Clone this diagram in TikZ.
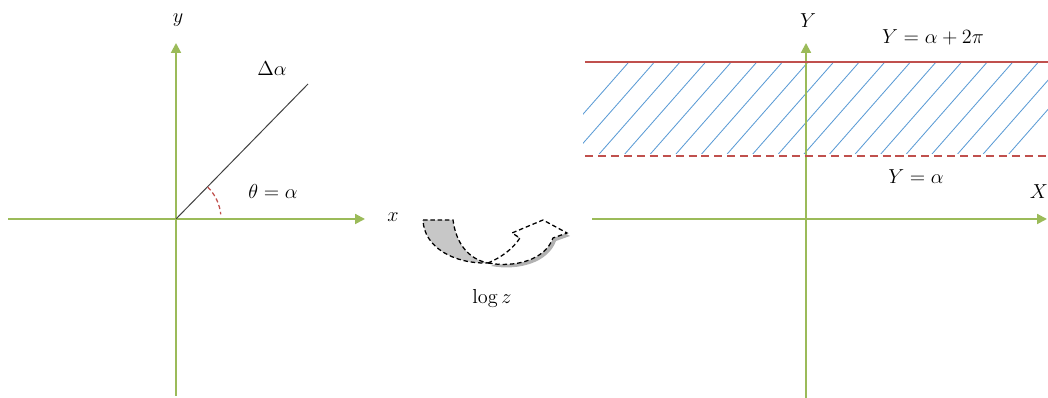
\documentclass[tikz,border=0pt]{standalone}
\usetikzlibrary{arrows.meta}
\definecolor{axisgreen}{HTML}{9BBB59}
\definecolor{linered}{HTML}{C0504D}
\definecolor{hatchblue}{HTML}{5B9BD5}
\begin{document}
\begin{tikzpicture}[x=0.025cm,y=0.025cm,
  axis/.style={axisgreen,line width=1.4pt,-{Triangle[length=7pt,width=7pt]}},
  lbl/.style={font=\fontsize{14}{16}\selectfont},
  curl/.style={line width=0.9pt,dash pattern=on 3.2pt off 2pt}]
\useasboundingbox (0,0) rectangle (1048,398);
\coordinate (o1) at (176,179);
\coordinate (ybot) at (176,2);
\coordinate (ytop) at (176,355);
\coordinate (xleft) at (8,179);
\coordinate (xright) at (365,179);
\coordinate (ray) at (308,314);
\coordinate (o2) at (806,179);
\coordinate (Ybot) at (806,0);
\coordinate (Ytop) at (806,355);
\coordinate (Xleft) at (592,179);
\coordinate (Xright) at (1047,179);
\coordinate (topA) at (585,336);
\coordinate (topB) at (1048,336);
\coordinate (botA) at (585,242);
\coordinate (botB) at (1048,242);
\begin{scope}
\clip (583,244) rectangle (1048,335);
\foreach \k in {0,...,18}
  \draw[hatchblue,line width=0.6pt] (548+25.6*\k,244) -- +(80,91);
\end{scope}
\draw[axis] (ybot) -- (ytop);
\draw[axis] (xleft) -- (xright);
\draw[axis] (Ybot) -- (Ytop);
\draw[axis] (Xleft) -- (Xright);
\draw[black!75,line width=0.7pt] (o1) -- (ray);
\draw[linered,line width=0.9pt,dash pattern=on 3pt off 2pt] ([shift={(45:45)}]o1) arc (45:6:45);
\draw[linered,line width=1pt] (topA) -- (topB);
\draw[linered,line width=1pt,dash pattern=on 5.7pt off 3.5pt] (botA) -- (botB);
\fill[black!30,shift={(3,-3)}] (488,135) .. controls (515,130) and (545,138) .. (553,160)
  -- (567,165) -- (543,178) -- (512,165) -- (520,160) .. controls (512,148) and (500,140) .. cycle;
\filldraw[curl,fill=white] (488,135) .. controls (515,130) and (545,138) .. (553,160)
  -- (567,165) -- (543,178) -- (512,165) -- (520,160) .. controls (512,148) and (500,140) .. cycle;
\filldraw[curl,fill=black!22] (423,178) -- (453,178) .. controls (456,155) and (468,139) .. (488,135)
  .. controls (455,134) and (424,150) .. cycle;
\node[lbl] (ylab) at (178,378) {$y$};
\node[lbl] (xlab) at (393,181) {$x$};
\node[lbl] (dlab) at (272,329) {$\Delta\alpha$};
\node[lbl] (tlab) at (273,207) {$\theta = \alpha$};
\node[lbl] (loglab) at (492,100) {$\log z$};
\node[lbl] (Ylab) at (808,377) {$Y$};
\node[lbl] (Xlab) at (1039,206) {$X$};
\node[lbl] (uplab) at (933,361) {$Y = \alpha + 2\pi$};
\node[lbl] (lowlab) at (916,221) {$Y = \alpha$};
\end{tikzpicture}
\end{document}
